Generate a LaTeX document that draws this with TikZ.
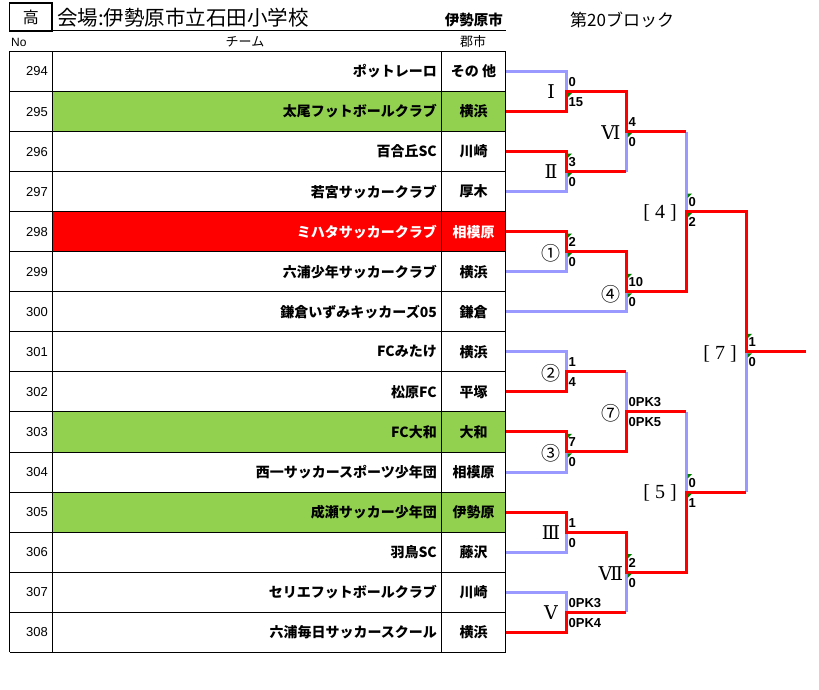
\documentclass[tikz,border=0pt]{standalone}
\usepackage{fontspec}
\setmainfont{Noto Sans CJK JP}
\newfontfamily\lat{Liberation Sans}
\newfontfamily\ser{DejaVu Serif}
\newfontfamily\brk{Liberation Serif}
\usetikzlibrary{calc}
\definecolor{lblue}{HTML}{9999FF}
\definecolor{rred}{HTML}{FF0000}
\definecolor{fgreen}{HTML}{92D050}
\definecolor{tgreen}{HTML}{008000}
\newcommand\putscores[3]{%
  \node[sc,anchor=west] (#1a) at ([shift={(2.5pt,9.5pt)}]#1) {#2};
  \node[sc,anchor=west] (#1b) at ([shift={(2.5pt,-10.5pt)}]#1) {#3};}
\newcommand\gtri[2]{\fill[tgreen] ([shift={(1.5pt,#2)}]#1) -- ++(4.5,0) -- ++(-4.5,4.5) -- cycle;}
\begin{document}
\begin{tikzpicture}[x=1pt,y=-1pt,
  gridline/.style={draw=black,line width=1pt},
  loseline/.style={draw=lblue,line width=3pt},
  winline/.style={draw=rred,line width=3pt},
  sc/.style={font=\lat\bfseries\fontsize{13}{13}\selectfont,inner sep=0pt},
  num/.style={font=\lat\fontsize{13}{13}\selectfont,anchor=east,inner sep=0pt},
  team/.style={font=\bfseries\fontsize{14}{14}\selectfont,anchor=east,inner sep=0pt},
  city/.style={font=\bfseries\fontsize{14}{14}\selectfont,inner sep=0pt},
  rnd/.style={font=\ser\fontsize{19}{19}\selectfont,inner sep=0pt},
  crnd/.style={font=\fontsize{19}{19}\selectfont,inner sep=0pt},
  brnd/.style={font=\brk\fontsize{20}{20}\selectfont,inner sep=0pt}
]
\useasboundingbox (0,0) rectangle (819,690);
\def\rh{40.05}
% header
\draw[line width=1.6pt] (9.5,3) rectangle (52,31);
\node[font=\fontsize{16}{16}\selectfont,inner sep=0pt] (ko) at (31,17) {高};
\node[anchor=west,font=\fontsize{20.5}{20.5}\selectfont,inner sep=0pt] (venue) at (57,18) {会場:伊勢原市立石田小学校};
\draw[gridline] (52,31) -- (506,31);
\node[anchor=east,font=\bfseries\fontsize{14.5}{14.5}\selectfont,inner sep=0pt] (hcity0) at (503,20) {伊勢原市};
\node[anchor=west,font=\fontsize{17}{17}\selectfont,inner sep=0pt] (blk) at (570,20) {第20ブロック};
\node[anchor=west,font=\lat\fontsize{12}{12}\selectfont,inner sep=0pt] (hno) at (11,42) {No};
\node[font=\fontsize{13}{13}\selectfont,inner sep=0pt] (hteam) at (245,42) {チーム};
\node[font=\fontsize{13}{13}\selectfont,inner sep=0pt] (hcity) at (473,42) {郡市};
% fills
\foreach \i/\c in {1/fgreen,4/rred,9/fgreen,11/fgreen}
  \fill[\c] (52.5,51.5+\i*\rh) rectangle (505.5,51.5+\i*\rh+\rh);
% grid
\foreach \k in {0,...,15} \draw[gridline] (9.5,51.5+\k*\rh) -- (505.5,51.5+\k*\rh);
\foreach \xx in {9.5,52.5,441.5,505.5} \draw[gridline] (\xx,51.5) -- (\xx,51.5+15*\rh);
% rows
\foreach \no/\team/\city/\tc [count=\i from 0] in {
  294/ポットレーロ/その 他/black,
  295/太尾フットボールクラブ/横浜/black,
  296/百合丘SC/川崎/black,
  297/若宮サッカークラブ/厚木/black,
  298/ミハタサッカークラブ/相模原/white,
  299/六浦少年サッカークラブ/横浜/black,
  300/鎌倉いずみキッカーズ05/鎌倉/black,
  301/FCみたけ/横浜/black,
  302/松原FC/平塚/black,
  303/FC大和/大和/black,
  304/西一サッカースポーツ少年団/相模原/black,
  305/成瀬サッカー少年団/伊勢原/black,
  306/羽鳥SC/藤沢/black,
  307/セリエフットボールクラブ/川崎/black,
  308/六浦毎日サッカースクール/横浜/black}{
  \node[num] (n\no) at (48,71.5+\i*\rh) {\no};
  \node[team,text=\tc] (tm\no) at (437,71.5+\i*\rh) {\team};
  \node[city,text=\tc] (c\no) at (473.5,71.5+\i*\rh) {\city};
  \coordinate (t\no) at (506,71.5+\i*\rh);
}
% bracket vertices
\coordinate (mI) at ($(t294)!.5!(t295)+(60,0)$);
\coordinate (mII) at ($(t296)!.5!(t297)+(60,0)$);
\coordinate (mA) at ($(t298)!.5!(t299)+(60,0)$);
\coordinate (mD) at ($(t300)+(120,-20)$);
\coordinate (mVI) at ($(mI)!.5!(mII)+(60,0)$);
\coordinate (m4) at ($(mVI)!.5!(mD)+(60,0)$);
\coordinate (mB) at ($(t301)!.5!(t302)+(60,0)$);
\coordinate (mC) at ($(t303)!.5!(t304)+(60,0)$);
\coordinate (m7) at ($(mB)!.5!(mC)+(60,0)$);
\coordinate (mIII) at ($(t305)!.5!(t306)+(60,0)$);
\coordinate (mV) at ($(t307)!.5!(t308)+(60,0)$);
\coordinate (mVII) at ($(mIII)!.5!(mV)+(60,0)$);
\coordinate (m5) at ($(m7)!.5!(mVII)+(60,0)$);
\coordinate (mF) at ($(m4)!.5!(m5)+(60,0)$);
\coordinate (fin) at ($(mF)+(60,0)$);
% losing lines
\draw[loseline] (t294) -| (mI);
\draw[loseline] (t297) -| (mII);
\draw[loseline] (t299) -| (mA);
\draw[loseline] (t300) -| (mD);
\draw[loseline] (mII -| mVI) -- (mVI);
\draw[loseline] (mVI -| m4) -- (m4);
\draw[loseline] (t301) -| (mB);
\draw[loseline] (mB -| m7) -- (m7);
\draw[loseline] (t304) -| (mC);
\draw[loseline] (t306) -| (mIII);
\draw[loseline] (t307) -| (mV);
\draw[loseline] (mV -| mVII) -- (mVII);
\draw[loseline] (m7 -| m5) -- (m5);
\draw[loseline] (m5 -| mF) -- (mF);
% winning lines
\draw[winline] (t295) -| (mI) -| (mVI) -- (mVI -| m4);
\draw[winline] (t296) -| (mII) -- (mII -| mVI);
\draw[winline] (t298) -| (mA) -| (mD) -| (m4) -| (mF) -- (fin);
\draw[winline] (t302) -| (mB) -- (mB -| m7);
\draw[winline] (t303) -| (mC) -| (m7) -- (m7 -| m5);
\draw[winline] (t305) -| (mIII) -| (mVII) -| (m5) -- (m5 -| mF);
\draw[winline] (t308) -| (mV) -- (mV -| mVII);
% scores
\putscores{mI}{0}{15}
\putscores{mII}{3}{0}
\putscores{mVI}{4}{0}
\putscores{mA}{2}{0}
\putscores{mD}{10}{0}
\putscores{m4}{0}{2}
\putscores{mB}{1}{4}
\putscores{mC}{7}{0}
\putscores{m7}{0PK3}{0PK5}
\putscores{mIII}{1}{0}
\putscores{mV}{0PK3}{0PK4}
\putscores{mVII}{2}{0}
\putscores{m5}{0}{1}
\putscores{mF}{1}{0}
% green markers
\gtri{mI}{-1.5pt}
\gtri{mII}{18pt}\gtri{mII}{-1.5pt}
\gtri{mVI}{-1.5pt}
\gtri{mA}{18pt}\gtri{mA}{-1.5pt}
\gtri{mD}{18pt}\gtri{mD}{-1.5pt}
\gtri{m4}{18pt}\gtri{m4}{-1.5pt}
\gtri{mC}{18pt}\gtri{mC}{-1.5pt}
\gtri{mVII}{18pt}\gtri{mVII}{-1.5pt}
\gtri{m5}{18pt}\gtri{m5}{-1.5pt}
\gtri{mF}{18pt}\gtri{mF}{-1.5pt}
% round labels
\node[rnd] (lI) at (551,92) {Ⅰ};
\node[rnd] (lII) at (551,172) {Ⅱ};
\node[rnd] (lVI) at (611,133) {Ⅵ};
\node[crnd] (lA) at (551,253) {①};
\node[crnd] (lD) at (611,294) {④};
\node[brnd] (l4) at (660,213) {[ 4 ]};
\node[crnd] (lB) at (551,373) {②};
\node[crnd] (lC) at (551,453) {③};
\node[crnd] (l7) at (611,413) {⑦};
\node[rnd] (lIII) at (551,533) {Ⅲ};
\node[rnd] (lV) at (551,613) {Ⅴ};
\node[rnd] (lVII) at (611,574) {Ⅶ};
\node[brnd] (l5) at (660,493) {[ 5 ]};
\node[brnd] (lF) at (720,354) {[ 7 ]};
\end{tikzpicture}
\end{document}
